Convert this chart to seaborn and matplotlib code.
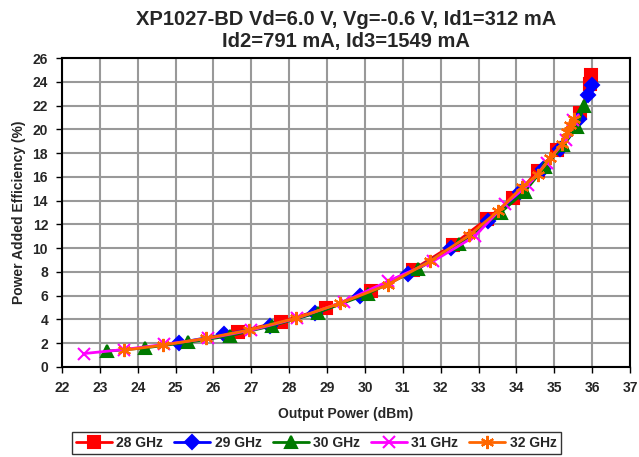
import numpy as np
import pandas as pd
import seaborn as sns
import matplotlib.pyplot as plt
from matplotlib.ticker import MultipleLocator

# Output power (dBm) and PAE (%) per frequency
pout_28 = [26.66, 27.77, 28.98, 30.15, 31.27, 32.33, 33.21, 33.92, 34.56, 35.07, 35.68, 35.95, 35.98]
pae_28 = [2.97, 3.81, 4.95, 6.41, 8.19, 10.3, 12.44, 14.23, 16.48, 18.28, 21.4, 23.8, 24.6]

pout_29 = [25.08, 26.29, 27.48, 28.68, 29.87, 31.14, 32.28, 33.25, 34.1, 34.69, 35.15, 35.66, 35.9, 36.0]
pae_29 = [2.03, 2.74, 3.47, 4.52, 5.99, 7.86, 10.03, 12.25, 14.7, 16.67, 18.36, 20.85, 22.9, 23.7]

pout_30 = [23.2, 24.2, 25.32, 26.44, 27.55, 28.76, 30.08, 31.4, 32.49, 33.58, 34.22, 34.75, 35.24, 35.6, 35.78]
pae_30 = [1.33, 1.61, 2.07, 2.63, 3.47, 4.58, 6.16, 8.25, 10.31, 13.0, 14.75, 16.86, 18.64, 20.2, 22.0]

pout_31 = [22.58, 23.64, 24.7, 25.85, 27.0, 28.2, 29.45, 30.6, 31.8, 32.9, 33.7, 34.3, 34.8, 35.3, 35.5]
pae_31 = [1.13, 1.47, 1.9, 2.4, 3.1, 4.1, 5.5, 7.2, 8.9, 11.0, 13.7, 15.3, 17.2, 19.1, 20.8]

pout_32 = [23.64, 24.66, 25.79, 26.93, 28.17, 29.35, 30.6, 31.71, 32.75, 33.52, 34.14, 34.56, 34.89, 35.2, 35.33, 35.42, 35.51]
pae_32 = [1.41, 1.84, 2.4, 3.11, 4.1, 5.37, 6.92, 8.9, 11.07, 13.14, 15.12, 16.19, 17.58, 18.79, 19.78, 20.4, 20.9]

labels = ["28 GHz", "29 GHz", "30 GHz", "31 GHz", "32 GHz"]
series = [(pout_28, pae_28), (pout_29, pae_29), (pout_30, pae_30),
          (pout_31, pae_31), (pout_32, pae_32)]
colors = ["#ff0000", "#0000ff", "#007a00", "#ff00ff", "#ff6600"]
markers = ["s", "D", "^", "x", (6, 2, 0)]
msizes = [9, 7, 9, 8.5, 9.5]

sns.set_style("white")
plt.rcParams['font.family'] = ['Liberation Sans', 'DejaVu Sans']
plt.rcParams['font.weight'] = 'bold'

fig = plt.figure(figsize=(6.39, 4.57), dpi=100)
ax = fig.add_axes([0.097, 0.197, 0.889, 0.676])

for (x, y), lab, c, m, ms in zip(series, labels, colors, markers, msizes):
    df = pd.DataFrame({"pout": x, "pae": y})
    sns.lineplot(data=df, x="pout", y="pae", ax=ax, sort=False, color=c,
                 marker=m, markersize=ms, markeredgecolor=c, markerfacecolor=c,
                 markeredgewidth=1.5, linewidth=2, label=lab)

ax.set_xlim(22, 37)
ax.set_ylim(0, 26)
ax.xaxis.set_major_locator(MultipleLocator(1))
ax.yaxis.set_major_locator(MultipleLocator(2))
ax.grid(True, color="#999999", linewidth=1.5)
ax.set_axisbelow(True)
for s in ax.spines.values():
    s.set_color("black")
    s.set_linewidth(1.5)
ax.tick_params(axis="both", direction="out", length=4, width=1, labelsize=10,
               bottom=True, left=True, color="black", pad=6)

ax.set_xlabel("Output Power (dBm)", fontsize=10, fontweight="bold", labelpad=9)
ax.set_ylabel("Power Added Efficiency (%)", fontsize=10, fontweight="bold", labelpad=5)
ax.set_title("XP1027-BD Vd=6.0 V, Vg=-0.6 V, Id1=312 mA\nId2=791 mA, Id3=1549 mA",
             fontsize=14.5, fontweight="bold", pad=8, linespacing=1.2)

ax.legend(loc="center", bbox_to_anchor=(0.495, 0.031), bbox_transform=fig.transFigure,
          ncol=5, frameon=True, fancybox=False, edgecolor="black",
          handlelength=2.6, columnspacing=0.8, handletextpad=0.3, borderpad=0.3,
          prop={"weight": "bold", "size": 10})

fig.canvas.draw()
for t in ax.get_xticklabels() + ax.get_yticklabels():
    t.set_fontweight("bold")

fig.savefig("out.png", dpi=100)
plt.close()
